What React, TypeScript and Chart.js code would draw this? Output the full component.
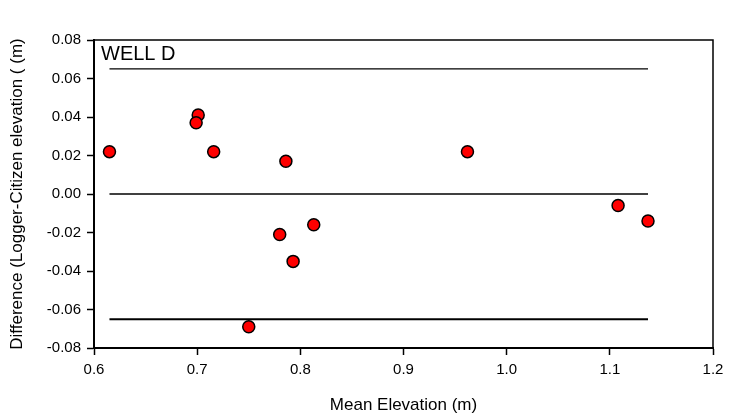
import React, { useEffect, useRef } from "react";
import { Chart, registerables } from "chart.js";

Chart.register(...registerables);

// Mean elevation (m) and difference (m) per observation
const meanElevation = [0.615, 0.701, 0.699, 0.716, 0.750, 0.780, 0.786, 0.793, 0.813, 0.962, 1.108, 1.137];
const difference = [0.022, 0.041, 0.037, 0.022, -0.069, -0.021, 0.017, -0.035, -0.016, 0.022, -0.006, -0.014];

const upperLimit = 0.065;
const meanDiff = 0.0;
const lowerLimit = -0.065;
const limitRange = [0.615, 1.137];

const wellLabel = "WELL D";
const xTitle = "Mean Elevation (m)";
const yTitle = "Difference (Logger-Citizen elevation ( (m)";

const FONT = "'Liberation Sans', Arial, Helvetica, sans-serif";

export default function App() {
  const ref = useRef<HTMLCanvasElement | null>(null);

  useEffect(() => {
    document.body.style.margin = "0";
    const canvas = ref.current;
    if (!canvas) return;

    const points = meanElevation.map((x, i) => ({ x, y: difference[i] }));
    const hLine = (y: number) => limitRange.map((x) => ({ x, y }));

    const framePlugin = {
      id: "frameAndLabel",
      beforeDatasetsDraw(chart: any) {
        const { ctx, chartArea } = chart;
        ctx.save();
        ctx.strokeStyle = "#000";
        ctx.lineWidth = 1.5;
        ctx.beginPath();
        ctx.moveTo(chartArea.left, chartArea.top);
        ctx.lineTo(chartArea.right, chartArea.top);
        ctx.lineTo(chartArea.right, chartArea.bottom);
        ctx.stroke();
        ctx.fillStyle = "#000";
        ctx.font = `20px ${FONT}`;
        ctx.textAlign = "left";
        ctx.textBaseline = "alphabetic";
        ctx.fillText(wellLabel, chartArea.left + 7, chartArea.top + 20);
        ctx.restore();
      },
    };

    const chart = new Chart(canvas, {
      type: "scatter",
      data: {
        datasets: [
          {
            data: hLine(upperLimit),
            showLine: true,
            borderColor: "#000",
            borderWidth: 1.3,
            pointRadius: 0,
          },
          {
            data: hLine(meanDiff),
            showLine: true,
            borderColor: "#000",
            borderWidth: 1.5,
            pointRadius: 0,
          },
          {
            data: hLine(lowerLimit),
            showLine: true,
            borderColor: "#000",
            borderWidth: 2,
            pointRadius: 0,
          },
          {
            data: points,
            backgroundColor: "#ff0000",
            borderColor: "#000",
            borderWidth: 1.5,
            pointRadius: 6,
          },
        ],
      },
      options: {
        responsive: false,
        animation: false,
        layout: { padding: { top: 40, right: 27, left: 0, bottom: 0 } },
        plugins: {
          legend: { display: false },
          tooltip: { enabled: false },
        },
        scales: {
          x: {
            type: "linear",
            min: 0.6,
            max: 1.2,
            afterFit(scale: any) {
              scale.height = 69;
            },
            ticks: {
              stepSize: 0.1,
              color: "#000",
              font: { family: FONT, size: 15 },
              padding: 6,
              callback: (v: any) => Number(v).toFixed(1),
              maxRotation: 0,
            },
            grid: {
              drawOnChartArea: false,
              drawTicks: true,
              tickLength: 7,
              tickColor: "#000",
              tickWidth: 1.5,
            },
            border: { color: "#000", width: 2 },
            title: {
              display: true,
              text: xTitle,
              color: "#000",
              font: { family: FONT, size: 17 },
              padding: { top: 0, bottom: 1 },
            },
          },
          y: {
            type: "linear",
            min: -0.08,
            max: 0.08,
            afterFit(scale: any) {
              scale.width = 94;
            },
            ticks: {
              stepSize: 0.02,
              color: "#000",
              font: { family: FONT, size: 15 },
              padding: 6,
              callback: (v: any) => Number(v).toFixed(2),
            },
            grid: {
              drawOnChartArea: false,
              drawTicks: true,
              tickLength: 7,
              tickColor: "#000",
              tickWidth: 1.5,
            },
            border: { color: "#000", width: 2 },
            title: {
              display: true,
              text: yTitle,
              color: "#000",
              font: { family: FONT, size: 17 },
              padding: { top: 7, bottom: 0 },
            },
          },
        },
      },
      plugins: [framePlugin],
    });

    return () => chart.destroy();
  }, []);

  return (
    <div style={{ position: "fixed", left: 0, top: 0, width: 740, height: 417, background: "#fff" }}>
      <canvas ref={ref} width={740} height={417} />
    </div>
  );
}
